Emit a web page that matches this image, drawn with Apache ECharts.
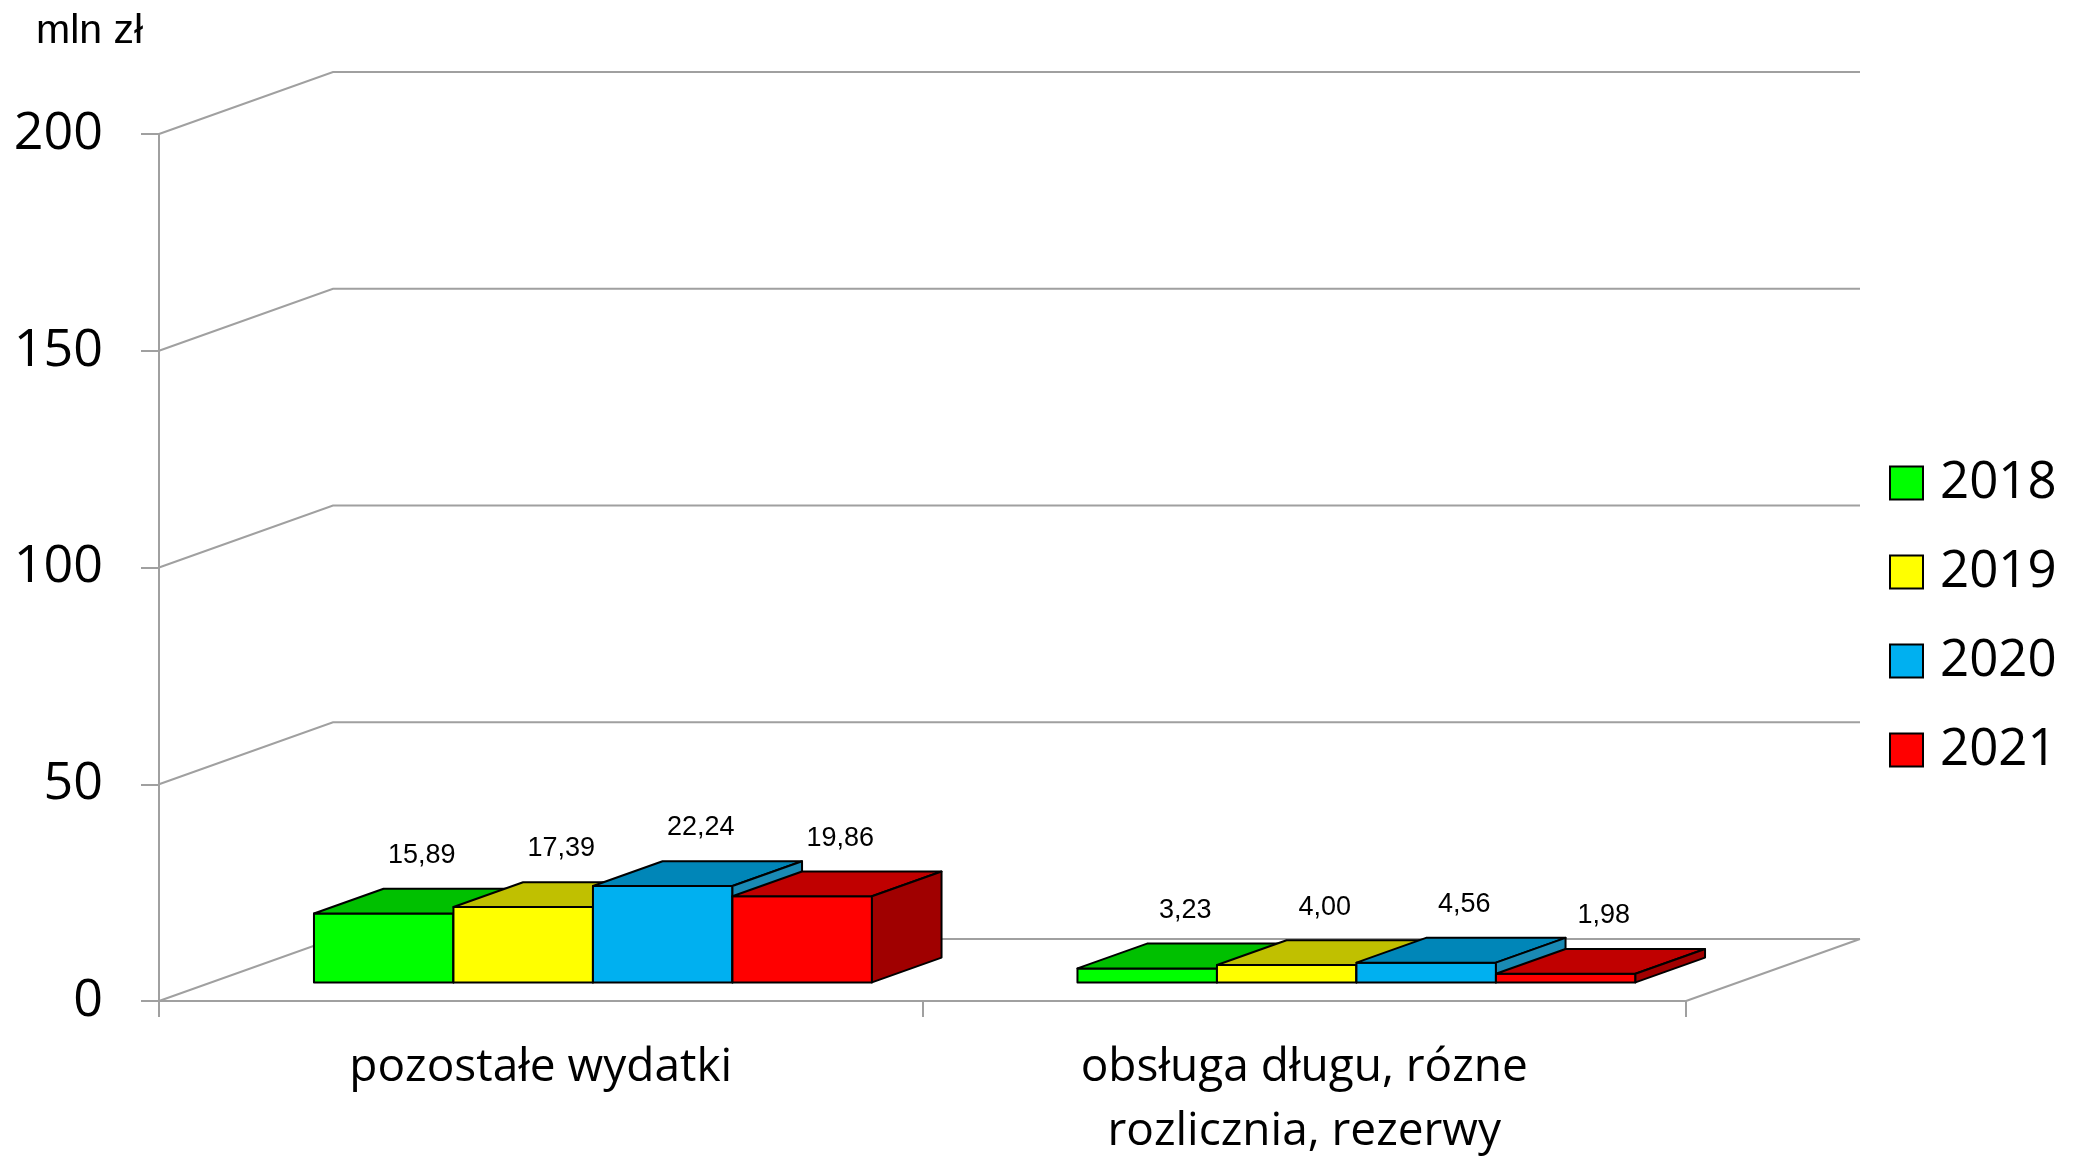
<!DOCTYPE html>
<html>
<head>
<meta charset="utf-8">
<script src="https://cdn.jsdelivr.net/npm/echarts@6/dist/echarts.min.js"></script>
<style>
  html, body { margin: 0; padding: 0; background: #fff; }
  #chart { width: 2080px; height: 1160px; }
</style>
</head>
<body>
<div id="chart"></div>
<script>
// dane
const categories = ['pozostałe wydatki', 'obsługa długu, rózne\nrozlicznia, rezerwy'];
const years = ['2018', '2019', '2020', '2021'];
const v2018 = [15.89, 3.23];
const v2019 = [17.39, 4.00];
const v2020 = [22.24, 4.56];
const v2021 = [19.86, 1.98];
const yTicks = [0, 50, 100, 150, 200];

// kolory: przód, góra, bok
const faceColors = [
  ['#00ff00', '#00c000', '#00a000'],
  ['#ffff00', '#c0c000', '#a0a000'],
  ['#00b0f0', '#0086b8', '#1a8ab4'],
  ['#ff0000', '#c00000', '#a00000']
];

// "glebokosc" wykresu 3D w pikselach
const DX = 174, DY = -62;
const D0 = 0.3, D1 = 0.7;       // przedni i tylny brzeg slupkow (czesc glebokosci)
const BAR_RATIO = 0.1827;       // szerokosc slupka / szerokosc kategorii
const GRID_COLOR = '#a0a0a0';

function fmt(v) {
  return v.toFixed(2).replace('.', ',');
}

function renderGrid(params, api) {
  const cs = params.coordSys;
  const y = api.coord([0, api.value(1)])[1];
  const children = [{
    type: 'polyline',
    shape: { points: [[cs.x, y], [cs.x + DX, y + DY], [cs.x + cs.width + DX, y + DY]] },
    style: { stroke: GRID_COLOR, lineWidth: 2, fill: null }
  }];
  if (api.value(1) === 0) {
    children.push({
      type: 'line',
      shape: { x1: cs.x + cs.width, y1: y, x2: cs.x + cs.width + DX, y2: y + DY },
      style: { stroke: GRID_COLOR, lineWidth: 2 }
    });
  }
  return { type: 'group', children: children };
}

function makeBarRenderer(si) {
  return function (params, api) {
    const cat = api.value(0), val = api.value(1);
    const band = api.size([1, 0])[0];
    const base = api.coord([cat, 0]);
    const top = api.coord([cat, val]);
    const barW = band * BAR_RATIO;
    const x0 = base[0] - band * BAR_RATIO * 2 + si * barW + DX * D0;
    const x1 = x0 + barW;
    const yb = base[1] + DY * D0;
    const yt = top[1] + DY * D0;
    const ddx = DX * (D1 - D0), ddy = DY * (D1 - D0);
    const c = faceColors[si];
    const border = { stroke: '#000', lineWidth: 2, lineJoin: 'round' };
    return {
      type: 'group',
      children: [
        {
          type: 'polygon',
          shape: { points: [[x0, yt], [x1, yt], [x1, yb], [x0, yb]] },
          style: Object.assign({ fill: c[0] }, border)
        },
        {
          type: 'polygon',
          shape: { points: [[x0, yt], [x1, yt], [x1 + ddx, yt + ddy], [x0 + ddx, yt + ddy]] },
          style: Object.assign({ fill: c[1] }, border)
        },
        {
          type: 'polygon',
          shape: { points: [[x1, yt], [x1 + ddx, yt + ddy], [x1 + ddx, yb + ddy], [x1, yb]] },
          style: Object.assign({ fill: c[2] }, border)
        },
        {
          type: 'text',
          z2: 100,
          style: {
            x: x0 + barW / 2 + 38,
            y: yt - 58,
            text: fmt(val),
            fill: '#000',
            font: '27px "Liberation Sans", Arial, sans-serif',
            textAlign: 'center',
            textVerticalAlign: 'middle'
          }
        }
      ]
    };
  };
}

const seriesValues = [v2018, v2019, v2020, v2021];

const chart = echarts.init(document.getElementById('chart'), null, { renderer: 'canvas' });

const series = [{
  type: 'custom',
  name: 'grid',
  renderItem: renderGrid,
  data: yTicks.map(v => [0, v]),
  silent: true,
  z: 1
}];
years.forEach((yr, i) => {
  series.push({
    type: 'custom',
    name: yr,
    renderItem: makeBarRenderer(i),
    data: seriesValues[i].map((v, ci) => [ci, v]),
    itemStyle: { color: faceColors[i][0] },
    z: 2 + i
  });
});

chart.setOption({
  animation: false,
  backgroundColor: '#fff',
  title: {
    text: 'mln zł',
    left: 31,
    top: 6,
    textStyle: {
      fontFamily: '"Liberation Sans", Arial, sans-serif',
      fontSize: 41,
      fontWeight: 'normal',
      color: '#000'
    }
  },
  legend: {
    data: years.map(y => ({ name: y, icon: 'rect' })),
    orient: 'vertical',
    left: 1884,
    top: 452,
    itemWidth: 33,
    itemHeight: 33,
    itemGap: 37,
    itemStyle: { borderColor: '#000', borderWidth: 2 },
    textStyle: {
      fontFamily: '"Open Sans", sans-serif',
      fontSize: 51,
      lineHeight: 52,
      color: '#000',
      padding: [0, 0, 0, 12]
    }
  },
  grid: {
    left: 159,
    right: 394,
    top: 134,
    bottom: 159,
    outerBoundsMode: 'none'
  },
  xAxis: {
    type: 'category',
    data: categories,
    axisLine: { show: true, lineStyle: { color: GRID_COLOR, width: 2 } },
    axisTick: { show: true, length: 16, lineStyle: { color: GRID_COLOR, width: 2 } },
    axisLabel: {
      fontFamily: '"Open Sans", sans-serif',
      fontSize: 46,
      lineHeight: 64,
      color: '#000',
      margin: 35
    }
  },
  yAxis: {
    type: 'value',
    min: 0,
    max: 200,
    interval: 50,
    axisLine: { show: true, lineStyle: { color: GRID_COLOR, width: 2 } },
    axisTick: { show: true, length: 18, lineStyle: { color: GRID_COLOR, width: 2 } },
    splitLine: { show: false },
    axisLabel: {
      fontFamily: '"Open Sans", sans-serif',
      fontSize: 52,
      color: '#000',
      margin: 56
    }
  },
  series: series
});
</script>
</body>
</html>
